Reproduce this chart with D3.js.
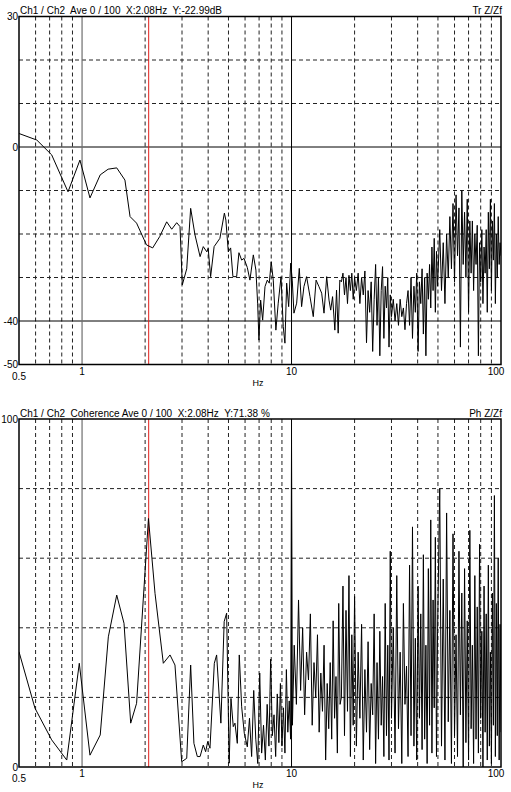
<!DOCTYPE html>
<html>
<head>
<meta charset="utf-8">
<script src="https://cdn.jsdelivr.net/npm/d3@7"></script>
<style>
body { margin: 0; background: #fff; }
text { font-family: "Liberation Sans", Arial, sans-serif; font-size: 10px; fill: #000; white-space: pre; }
</style>
</head>
<body>
<script>
// cursor
var cursorHz = 2.08;

// transmissibility, low band read point by point [Hz, dB]
var trLow = [
  [0.5, 3.1], [0.608, 1.6], [0.716, -1.8], [0.857, -10.3], [0.977, -3.0], [1.091, -11.7],
  [1.221, -6.4], [1.332, -5.1], [1.464, -4.8], [1.602, -7.6], [1.695, -16.0], [1.821, -17.5],
  [2.03, -22.5], [2.174, -23.2], [2.347, -20.6], [2.535, -17.2], [2.68, -18.9], [2.83, -17.4],
  [2.935, -18.3], [3.01, -31.7], [3.16, -28.0], [3.30, -14.1], [3.46, -20.2], [3.66, -25.2],
  [3.79, -22.9], [3.94, -24.1], [4.0, -23.3], [4.11, -29.8], [4.27, -22.9], [4.55, -21.0],
  [4.78, -15.2], [4.86, -16.8], [4.99, -24.1], [5.12, -23.2], [5.25, -29.8], [5.47, -29.8],
  [5.61, -24.3], [5.78, -26.0], [5.93, -25.6], [6.15, -27.7], [6.33, -30.6], [6.57, -24.8],
  [6.76, -28.3], [6.89, -35.9], [6.99, -44.4], [7.12, -35.2], [7.28, -39.8], [7.47, -32.1],
  [7.66, -30.6], [7.83, -31.3], [8.0, -26.4], [8.18, -30.6], [8.42, -42.1], [8.64, -35.9],
  [8.91, -29.8], [9.13, -41.3], [9.30, -45.1], [9.48, -31.3], [9.69, -36.7], [9.91, -26.7],
  [10.08, -30.6], [10.27, -38.2], [10.58, -35.9], [10.89, -27.9], [11.17, -36.7], [11.46, -32.1],
  [11.8, -29.8], [12.25, -34.4], [12.7, -39.0], [13.1, -30.6], [13.52, -32.1], [13.93, -33.6],
  [14.29, -38.2], [14.72, -29.8], [15.1, -35.2], [15.38, -37.5], [15.7, -34.4], [16.1, -42.1],
  [16.4, -32.9], [16.7, -42.8], [17.0, -30.6]
];

// coherence, low band [Hz, %]
var cohLow = [
  [0.5, 33.1], [0.596, 16.9], [0.716, 7.8], [0.845, 2.0], [0.970, 29.8], [1.091, 3.4],
  [1.221, 9.2], [1.335, 37.4], [1.464, 49.4], [1.586, 41.3], [1.707, 12.6], [1.821, 18.3],
  [2.075, 71.4], [2.23, 49.9], [2.443, 29.8], [2.63, 32.2], [2.777, 29.3], [2.99, 1.5],
  [3.16, 2.5], [3.30, 29.3], [3.42, 6.8], [3.55, 3.0], [3.66, 3.0], [3.79, 6.3],
  [3.89, 4.4], [3.98, 7.3], [4.08, 5.4], [4.28, 29.8], [4.39, 32.2], [4.60, 12.6],
  [4.77, 41.8], [4.90, 44.2], [5.04, 1.1], [5.14, 19.7], [5.27, 11.6], [5.37, 12.6],
  [5.51, 6.8], [5.63, 32.2], [5.78, 17.3], [5.95, 9.7], [6.15, 5.8],
  [6.3, 14], [6.45, 3], [6.6, 22], [6.75, 8], [6.9, 1], [7.05, 27], [7.2, 4], [7.35, 12],
  [7.5, 2], [7.65, 18], [7.8, 6], [7.95, 31], [8.1, 9], [8.25, 15], [8.4, 3], [8.55, 21],
  [8.7, 7], [8.85, 24], [9.0, 6], [9.15, 17], [9.3, 4], [9.45, 28], [9.6, 10], [9.75, 19],
  [9.9, 8], [10.0, 94], [10.1, 12],
  [10.3, 35], [10.55, 18], [10.8, 48], [11.05, 22], [11.3, 40], [11.55, 15], [11.8, 33],
  [12.05, 25], [12.3, 44], [12.55, 12], [12.8, 30], [13.05, 20], [13.3, 38], [13.55, 10],
  [13.8, 27], [14.05, 16], [14.3, 35], [14.55, 2], [14.8, 24], [15.05, 11], [15.3, 30],
  [15.55, 8], [15.8, 42], [16.05, 14], [16.3, 26], [16.55, 4], [16.8, 47], [17.05, 18]
];

// upper band, shared frequencies
var hiFreq = [
  17.3, 17.6, 17.9, 18.2, 18.5, 18.8, 19.1, 19.4, 19.7, 20.0,
  20.4, 20.8, 21.2, 21.6, 22.0, 22.4, 22.8, 23.2, 23.6, 24.0,
  24.4, 24.8, 25.2, 25.6, 26.0, 26.4, 26.8, 27.2, 27.6, 28.0,
  28.4, 28.8, 29.2, 29.6, 30.0,
  30.6, 31.2, 31.8, 32.4, 33.0, 33.6, 34.2, 34.8, 35.4, 36.0,
  36.6, 37.2, 37.8, 38.4, 39.0, 39.6, 40.2, 40.8, 41.4, 42.0,
  42.6, 43.2, 43.8, 44.4, 45.0, 45.6, 46.2, 46.8, 47.4, 48.0,
  48.6, 49.2, 49.8,
  51, 52, 53, 54, 55, 56, 57, 58, 59, 60,
  61, 62, 63, 64, 65, 66, 67, 68, 69, 70,
  71, 72, 73, 74, 75, 76, 77, 78, 79, 80,
  81, 82, 83, 84, 85, 86, 87, 88, 89, 90,
  91, 92, 93, 94, 95, 96, 97, 98, 99, 100
];

var trHi = [
  -31, -29, -34, -30, -36, -29.5, -33, -29, -35, -30,
  -33, -29, -36, -30, -34, -28.5, -45, -33, -38, -31,
  -47, -35, -27, -41, -30, -48, -33, -27.5, -44, -32,
  -37, -30, -46, -34, -39,
  -35, -40, -36, -41, -35, -39, -37, -42, -36, -33,
  -41, -30, -44, -32, -38, -29, -47, -31, -36, -28,
  -43, -30, -48, -29, -35, -27, -37, -23, -33, -21,
  -38, -24, -32,
  -19, -33, -22, -36, -20, -30, -16, -28, -13, -31,
  -11, -25, -14, -46, -10, -27, -15, -30, -12, -38,
  -17, -29, -17, -33, -20, -27, -18, -48, -22, -31,
  -19, -36, -23, -29, -19, -38, -15, -28, -12, -33,
  -17, -26, -13, -36, -20, -30, -16, -27, -22, -25
];

var cohHi = [
  20, 52, 9, 45, 16, 55, 3, 38, 12, 49,
  6, 33, 14, 41, 2, 28, 10, 36, 5, 24,
  15, 44, 1, 30, 8, 39, 12, 26, 3, 47,
  9, 35, 2, 62, 14,
  40, 4, 55, 11, 33, 1, 47, 18, 29, 3,
  58, 9, 69, 6, 37, 2, 52, 14, 44, 5,
  61, 8, 35, 1, 57, 12, 71, 4, 48, 17,
  66, 3, 39,
  80, 6, 54, 2, 73, 13, 45, 1, 67, 9,
  38, 3, 62, 15, 50, 0, 57, 7, 42, 2,
  68, 11, 35, 1, 55, 8, 46, 4, 64, 14,
  39, 0, 52, 10, 44, 2, 58, 6, 33, 1,
  50, 12, 78, 3, 47, 9, 60, 2, 41, 10
];

var minorHz = [0.6, 0.7, 0.8, 0.9, 2, 3, 4, 5, 6, 7, 8, 9, 20, 30, 40, 50, 60, 70, 80, 90];
var xLabels = [1, 10, 100];

var trData = trLow.concat(hiFreq.map(function(f, i) { return [f, trHi[i]]; }));
var cohData = cohLow.concat(hiFreq.map(function(f, i) { return [f, cohHi[i]]; }));

var W = 511, H = 792, left = 19, right = 501;

var svg = d3.select("body").append("svg")
    .attr("width", W)
    .attr("height", H);

var x = d3.scaleLog().domain([0.5, 100]).range([left, right]);

function panel(cfg) {
  var y = d3.scaleLinear().domain(cfg.domain).range([cfg.bottom, cfg.top]);
  var g = svg.append("g");

  g.append("clipPath").attr("id", cfg.id)
    .append("rect")
      .attr("x", left).attr("y", cfg.top)
      .attr("width", right - left).attr("height", cfg.bottom - cfg.top);

  // grid
  g.selectAll(".vgrid").data(minorHz).enter().append("line")
      .attr("x1", function(d) { return x(d); }).attr("x2", function(d) { return x(d); })
      .attr("y1", cfg.top).attr("y2", cfg.bottom)
      .attr("stroke", "#222").attr("stroke-dasharray", "4,3");

  g.selectAll(".hgrid").data(cfg.dashed).enter().append("line")
      .attr("x1", left).attr("x2", right)
      .attr("y1", function(d) { return y(d); }).attr("y2", function(d) { return y(d); })
      .attr("stroke", "#222").attr("stroke-dasharray", "4,3");

  g.selectAll(".hsolid").data(cfg.solid).enter().append("line")
      .attr("x1", left).attr("x2", right)
      .attr("y1", function(d) { return y(d); }).attr("y2", function(d) { return y(d); })
      .attr("stroke", "#000");

  g.append("line")
      .attr("x1", x(1)).attr("x2", x(1)).attr("y1", cfg.top).attr("y2", cfg.bottom)
      .attr("stroke", "#6e6e6e").attr("stroke-width", 1.2);
  g.append("line")
      .attr("x1", x(10)).attr("x2", x(10)).attr("y1", cfg.top).attr("y2", cfg.bottom)
      .attr("stroke", "#000");

  g.append("line")
      .attr("x1", x(cursorHz)).attr("x2", x(cursorHz)).attr("y1", cfg.top).attr("y2", cfg.bottom)
      .attr("stroke", "#e0201c");

  var line = d3.line()
      .x(function(d) { return x(d[0]); })
      .y(function(d) { return y(d[1]); });

  g.append("path")
      .datum(cfg.data)
      .attr("clip-path", "url(#" + cfg.id + ")")
      .attr("fill", "none")
      .attr("stroke", "#000")
      .attr("stroke-width", 1)
      .attr("stroke-linejoin", "round")
      .attr("d", line);

  g.append("rect")
      .attr("x", left).attr("y", cfg.top)
      .attr("width", right - left).attr("height", cfg.bottom - cfg.top)
      .attr("fill", "none").attr("stroke", "#000").attr("stroke-width", 1.5);

  // y labels
  g.selectAll(".ylab").data(cfg.yLabels).enter().append("text")
      .attr("x", left - 1)
      .attr("y", function(d) { return y(d); })
      .attr("dy", "0.35em")
      .attr("text-anchor", "end")
      .text(function(d) { return d; });

  // x labels
  g.selectAll(".xlab").data(xLabels).enter().append("text")
      .attr("x", function(d) { return d === 100 ? x(d) - 5 : x(d); })
      .attr("y", cfg.bottom + 10)
      .attr("text-anchor", "middle")
      .text(function(d) { return d; });

  g.append("text")
      .attr("x", x(0.5))
      .attr("y", cfg.bottom + 15)
      .attr("text-anchor", "middle")
      .text("0.5");

  g.append("text")
      .attr("x", 258)
      .attr("y", cfg.bottom + 21)
      .attr("text-anchor", "middle")
      .style("font-size", "9px")
      .text("Hz");

  g.append("text")
      .attr("x", left + 1)
      .attr("y", cfg.top - 2.5)
      .text(cfg.title);

  g.append("text")
      .attr("x", right + 1)
      .attr("y", cfg.top - 2.5)
      .attr("text-anchor", "end")
      .text(cfg.tag);
}

panel({
  id: "clipTr", top: 16.5, bottom: 364.5, domain: [-50, 30],
  dashed: [20, 10, -10, -20, -30], solid: [0, -40], yLabels: [30, 0, -40, -50],
  data: trData,
  title: "Ch1 / Ch2  Ave 0 / 100  X:2.08Hz  Y:-22.99dB", tag: "Tr Z/Zf"
});

panel({
  id: "clipCoh", top: 419, bottom: 767, domain: [0, 100],
  dashed: [20, 40, 60, 80], solid: [], yLabels: [100, 0],
  data: cohData,
  title: "Ch1 / Ch2  Coherence Ave 0 / 100  X:2.08Hz  Y:71.38 %", tag: "Ph Z/Zf"
});
</script>
</body>
</html>
